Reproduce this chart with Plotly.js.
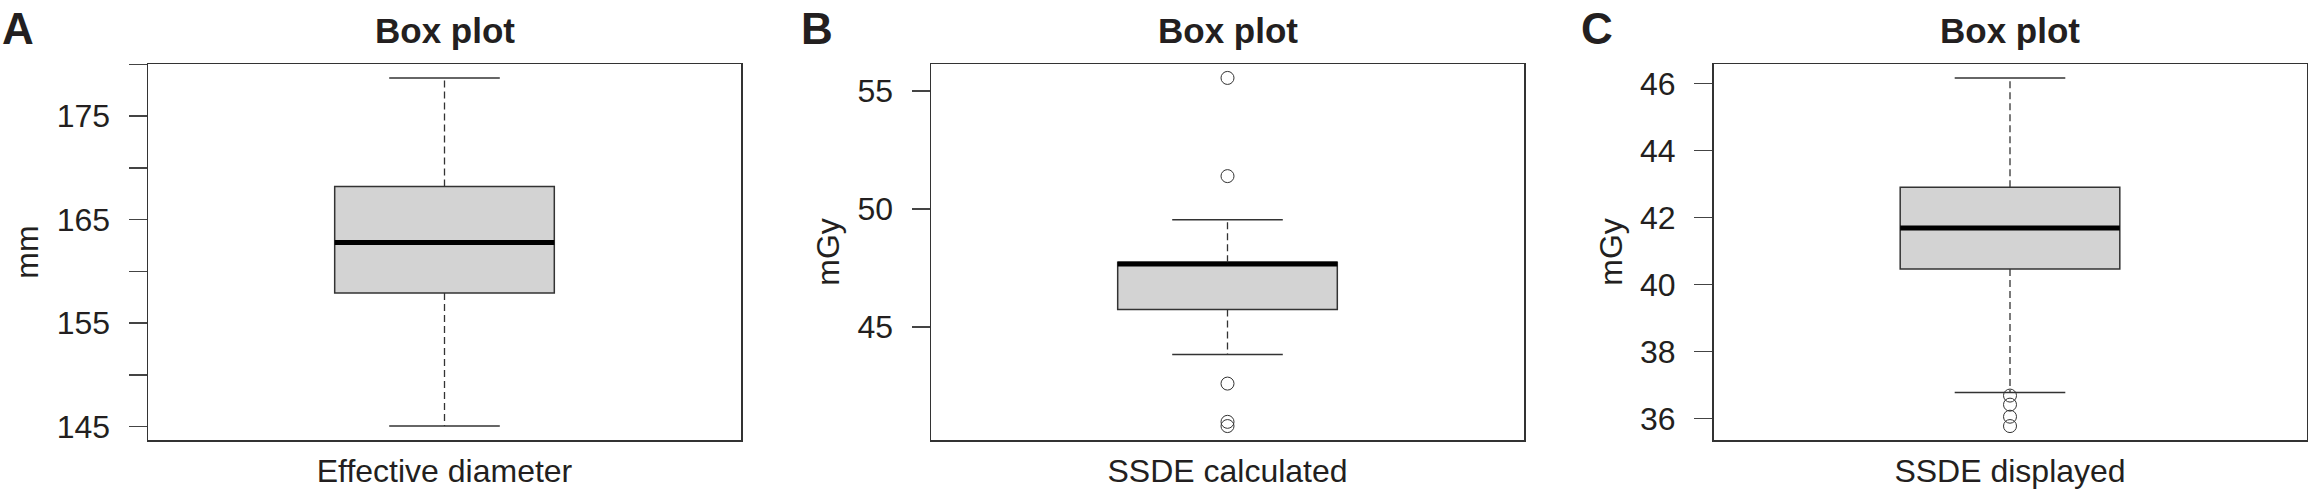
<!DOCTYPE html>
<html><head><meta charset="utf-8">
<script src="https://cdn.plot.ly/plotly-3.0.1.min.js"></script>
<style>html,body{margin:0;padding:0;background:#fff;} #chart{width:2309px;height:496px;}</style>
</head><body><div id="chart"></div>
<script>
// ---- data ----
const panelLetters = ['A', 'B', 'C'];
const panelTitles = ['Box plot', 'Box plot', 'Box plot'];
const categories = ['Effective diameter', 'SSDE calculated', 'SSDE displayed'];
const yTitles = ['mm', 'mGy', 'mGy'];
const lowerWhisker = [145.06, 43.84, 36.78];
const q1 = [157.91, 45.75, 40.47];
const median = [162.80, 47.68, 41.69];
const q3 = [168.21, 47.75, 42.91];
const upperWhisker = [178.70, 49.55, 46.17];
const outliersA = [];
const outliersB = [55.56, 51.40, 42.61, 40.99, 40.81];
const outliersC = [36.69, 36.42, 36.06, 35.78];
const tickValsA = [145, 150, 155, 160, 165, 170, 175, 180];
const tickTextA = ['145', '', '155', '', '165', '', '175', ''];
const tickValsB = [45, 50, 55];
const tickTextB = ['45', '50', '55'];
const tickValsC = [36, 38, 40, 42, 44, 46];
const tickTextC = ['36', '38', '40', '42', '44', '46'];

const outliers = [outliersA, outliersB, outliersC];
const tickVals = [tickValsA, tickValsB, tickValsC];
const tickText = [tickTextA, tickTextB, tickTextC];

// ---- style ----
const FONT = 'Liberation Sans, Arial, sans-serif';
const TXT = '#231f20';
const LINE = '#333333';
const W = 2309, H = 496;
const mT = 64, mB = 56;
const plotH = H - mT - mB;
const domainsPx = [[148, 741], [931, 1524], [1713.5, 2306.5]];
const boxWidth = 0.4;
const xHalf = 0.54;

const traces = [];
const layout = {
  width: W, height: H,
  margin: {l: 0, r: 0, t: mT, b: mB, pad: 0},
  paper_bgcolor: '#fff', plot_bgcolor: '#fff',
  showlegend: false,
  boxmode: 'overlay',
  font: {family: FONT, color: TXT, size: 32},
  annotations: []
};

for (let i = 0; i < 3; i++) {
  const sfx = i === 0 ? '' : String(i + 1);
  const xa = 'x' + sfx, ya = 'y' + sfx;
  const cat = categories[i];
  // box body
  traces.push({
    type: 'box', xaxis: xa, yaxis: ya, x: [cat],
    q1: [q1[i]], median: [median[i]], q3: [q3[i]],
    lowerfence: [q1[i]], upperfence: [q3[i]],
    width: boxWidth, whiskerwidth: 0, boxpoints: false,
    fillcolor: '#d3d3d3', line: {color: LINE, width: 1.5}, hoverinfo: 'skip'
  });
  // dashed whiskers
  traces.push({
    type: 'scatter', mode: 'lines', xaxis: xa, yaxis: ya,
    x: [cat, cat, null, cat, cat],
    y: [q3[i], upperWhisker[i], null, q1[i], lowerWhisker[i]],
    line: {color: LINE, width: 1.3, dash: '7px,4px'}, hoverinfo: 'skip'
  });
  // whisker caps
  traces.push({
    type: 'scatter', mode: 'markers', xaxis: xa, yaxis: ya,
    x: [cat, cat], y: [upperWhisker[i], lowerWhisker[i]],
    marker: {symbol: 'line-ew', size: 79, line: {color: LINE, width: 1.5}}, hoverinfo: 'skip'
  });
  // thick median
  traces.push({
    type: 'box', xaxis: xa, yaxis: ya, x: [cat],
    q1: [median[i]], median: [median[i]], q3: [median[i]],
    lowerfence: [median[i]], upperfence: [median[i]],
    width: boxWidth, whiskerwidth: 0, boxpoints: false,
    fillcolor: 'rgba(0,0,0,0)', line: {color: '#000', width: 5}, hoverinfo: 'skip'
  });
  // outliers
  if (outliers[i].length) {
    traces.push({
      type: 'scatter', mode: 'markers', xaxis: xa, yaxis: ya,
      x: outliers[i].map(() => cat), y: outliers[i],
      marker: {symbol: 'circle-open', size: 13, color: LINE, line: {color: LINE, width: 1}}, hoverinfo: 'skip'
    });
  }

  const all = [lowerWhisker[i], upperWhisker[i]].concat(outliers[i]);
  const lo = Math.min(...all), hi = Math.max(...all), d = hi - lo;
  const dom = [domainsPx[i][0] / W, domainsPx[i][1] / W];

  layout['xaxis' + sfx] = {
    domain: dom, anchor: ya, type: 'category', range: [-xHalf, xHalf],
    showline: true, mirror: true, linecolor: LINE, linewidth: 1.5,
    ticks: '', showgrid: false, zeroline: false, fixedrange: true,
    tickfont: {family: FONT, size: 32, color: TXT}, ticklabelstandoff: 2
  };
  layout['yaxis' + sfx] = {
    domain: [0, 1], anchor: xa, range: [lo - 0.04 * d, hi + 0.04 * d],
    tickmode: 'array', tickvals: tickVals[i], ticktext: tickText[i],
    ticks: 'outside', ticklen: 18, tickwidth: 1.5, tickcolor: '#444',
    showline: true, mirror: true, linecolor: LINE, linewidth: 1.5,
    showgrid: false, zeroline: false, fixedrange: true,
    tickfont: {family: FONT, size: 32, color: TXT}, ticklabelstandoff: 12,
    title: {text: yTitles[i], font: {family: FONT, size: 32, color: TXT}, standoff: 8}
  };
  // subplot title
  layout.annotations.push({
    xref: 'paper', yref: 'paper', x: (dom[0] + dom[1]) / 2, y: (H - mB - 31) / plotH,
    xanchor: 'center', yanchor: 'middle', showarrow: false,
    text: '<b>' + panelTitles[i] + '</b>', font: {family: FONT, size: 35, color: TXT}
  });
  // panel letter
  const letterX = [0, 799, 1579][i];
  layout.annotations.push({
    xref: 'paper', yref: 'paper', x: letterX / W, y: (H - mB - 28) / plotH,
    xanchor: 'left', yanchor: 'middle', showarrow: false,
    text: '<b>' + panelLetters[i] + '</b>', font: {family: FONT, size: 44, color: TXT}
  });
}

Plotly.newPlot('chart', traces, layout, {staticPlot: true, displayModeBar: false});
</script>
</body></html>
